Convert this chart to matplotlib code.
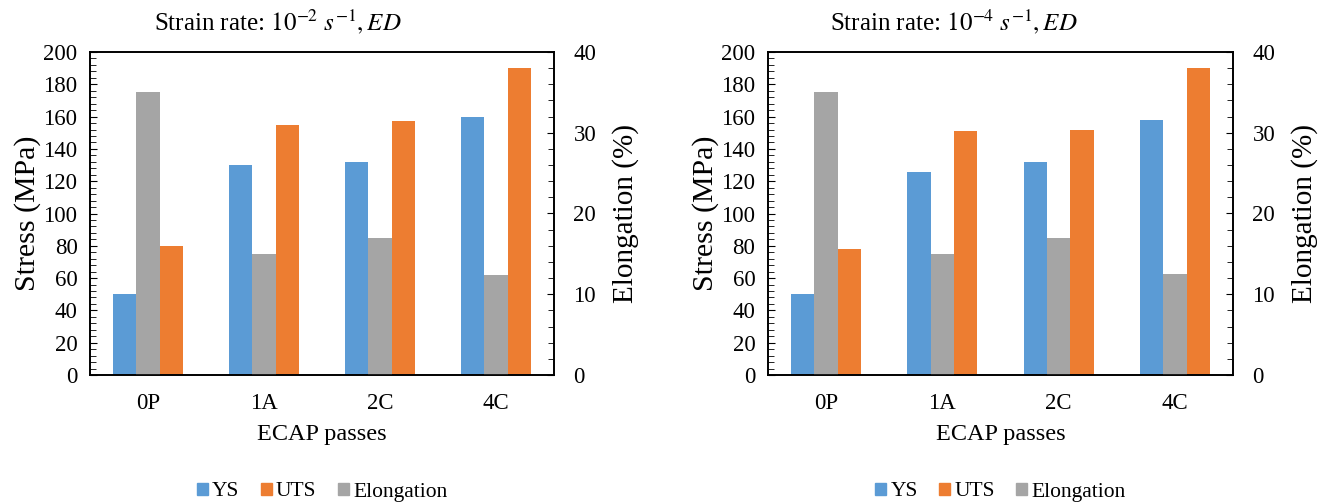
import numpy as np
import matplotlib
matplotlib.use("Agg")
import matplotlib.pyplot as plt
from matplotlib.ticker import MultipleLocator
from matplotlib.patches import Patch

plt.rcParams["font.family"] = ["Liberation Serif", "DejaVu Serif"]
plt.rcParams["mathtext.fontset"] = "stix"

passes = ["0P", "1A", "2C", "4C"]
titles = [r"Strain rate: $10^{-2}\ s^{-1}, ED$", r"Strain rate: $10^{-4}\ s^{-1}, ED$"]

# yield / ultimate strength (MPa) and elongation (%) per strain rate
ys = [[50, 130, 132, 160], [50, 126, 132, 158]]
uts = [[80, 155, 157, 190], [78, 151, 152, 190]]
elong = [[35, 15, 17, 12.4], [35, 15, 17, 12.5]]

c_ys, c_uts, c_el = "#5B9BD5", "#ED7D31", "#A5A5A5"

W, H = 1329, 503
fig = plt.figure(figsize=(W / 100, H / 100), dpi=100)
# axes boxes in pixels: left, right, top, bottom
px_boxes = [(90, 554, 52, 375), (768, 1233, 52, 375)]
title_x = [278, 954]

x = np.arange(len(passes))
w = 0.2
for i, (l, r, t, b) in enumerate(px_boxes):
    box = [l / W, 1 - b / H, (r - l) / W, (b - t) / H]
    ax = fig.add_axes(box)
    ax2 = ax.twinx()
    ax.bar(x - w, ys[i], w, color=c_ys, zorder=2)
    ax.bar(x + w, uts[i], w, color=c_uts, zorder=2)
    ax2.bar(x, elong[i], w, color=c_el, zorder=2)

    ax.set_xlim(-0.5, 3.5)
    ax.set_ylim(0, 200)
    ax2.set_ylim(0, 40)
    ax.yaxis.set_major_locator(MultipleLocator(20))
    ax.yaxis.set_minor_locator(MultipleLocator(4))
    ax2.yaxis.set_major_locator(MultipleLocator(10))
    ax2.yaxis.set_minor_locator(MultipleLocator(2))
    ax.set_xticks(x)
    ax.set_xticklabels(passes)
    ax.tick_params(axis="x", length=0, labelsize=16.5, pad=13)
    ax.tick_params(axis="y", which="both", direction="in", labelsize=16.5, pad=9)
    ax.tick_params(axis="y", which="major", length=5)
    ax.tick_params(axis="y", which="minor", length=4)
    ax2.tick_params(axis="y", which="both", direction="in", labelsize=16.5, pad=14)
    ax2.tick_params(axis="y", which="major", length=5)
    ax2.tick_params(axis="y", which="minor", length=4)
    for a in (ax, ax2):
        for s in a.spines.values():
            s.set_linewidth(1.2)
            s.set_color("black")

    ax.set_ylabel("Stress (MPa)", fontsize=21.5, labelpad=2)
    ax2.set_ylabel("Elongation (%)", fontsize=21, labelpad=11)
    ax.set_xlabel("ECAP passes", fontsize=17.5, labelpad=7)
    fig.text(title_x[i] / W, 1 - 22 / H, titles[i], fontsize=18,
             ha="center", va="center")

    handles = [Patch(color=c_ys, label="YS"), Patch(color=c_uts, label="UTS"),
               Patch(color=c_el, label="Elongation")]
    fig.legend(handles=handles, loc="center",
               bbox_to_anchor=(box[0] + box[2] / 2, 1 - 492 / H),
               ncol=3, frameon=False, fontsize=15.5, handlelength=0.5,
               handleheight=0.5, handletextpad=0.2, columnspacing=1.0)

fig.savefig("out.png", dpi=100)
